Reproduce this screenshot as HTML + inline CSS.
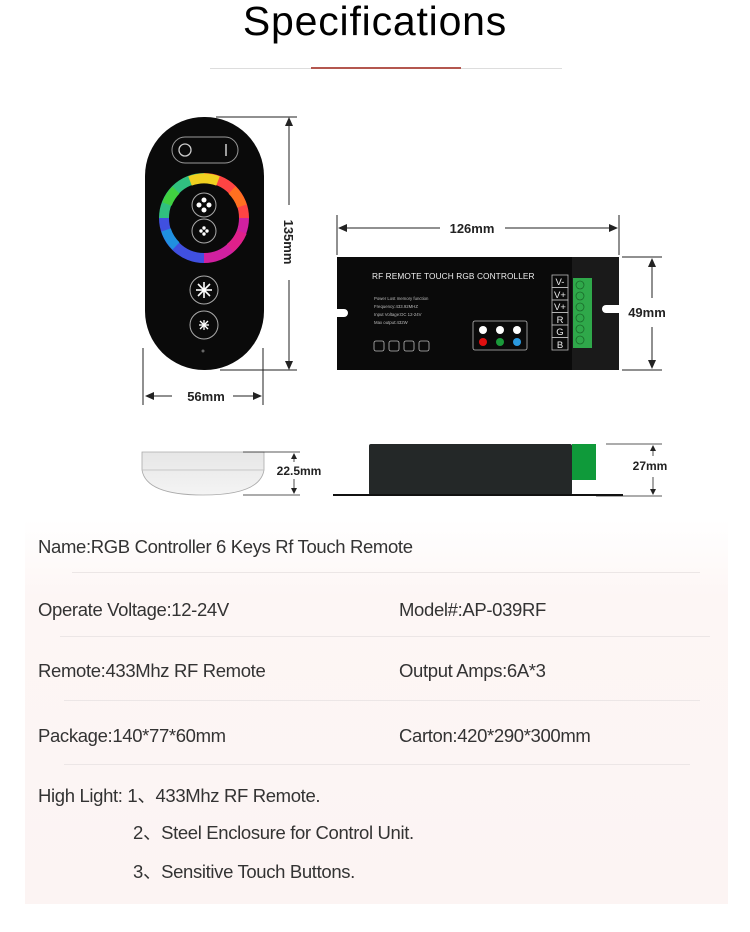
<!DOCTYPE html>
<html><head><meta charset="utf-8"><style>
html,body{margin:0;padding:0;background:#fff;}
body{width:750px;height:932px;position:relative;overflow:hidden;font-family:"Liberation Sans",sans-serif;}
.panel{position:absolute;left:25px;top:520px;width:703px;height:384px;background:linear-gradient(#fff,#fdf6f5 20%,#fcf4f3);}
.t{position:absolute;font-size:18.5px;color:#333;white-space:nowrap;letter-spacing:-0.35px;line-height:20px;}
.hl{position:absolute;height:1px;background:#ece6e6;}
</style></head><body>
<div class="panel"></div>
<div style="position:absolute;left:0;width:750px;top:-2px;text-align:center;font-size:41px;color:#000;letter-spacing:0.8px;">Specifications</div>
<div style="position:absolute;left:210px;top:68px;width:352px;height:1px;background:#ddd;"></div>
<div style="position:absolute;left:311px;top:67px;width:150px;height:2px;background:#b4574f;"></div>

<svg style="position:absolute;left:0;top:0" width="750" height="520" font-family="Liberation Sans, sans-serif">
<defs>
<linearGradient id="side" x1="0" y1="0" x2="0" y2="1"><stop offset="0" stop-color="#e6e6e6"/><stop offset="1" stop-color="#f4f4f4"/></linearGradient>
</defs>
<rect x="145" y="117" width="119" height="253" rx="59" fill="#0a0a0a"/>
<rect x="172" y="137" width="66" height="26" rx="13" fill="none" stroke="#999" stroke-width="1"/>
<circle cx="185" cy="150" r="6" fill="none" stroke="#ccc" stroke-width="1.3"/>
<line x1="226" y1="144" x2="226" y2="156" stroke="#ccc" stroke-width="1.5"/>
<g fill="none" stroke-width="10">
<path d="M204 178 A40 40 0 0 1 244 218" stroke="#f44"/>
<path d="M244 218 A40 40 0 0 1 204 258" stroke="#d020a0"/>
<path d="M204 258 A40 40 0 0 1 164 218" stroke="#4050e0"/>
<path d="M164 218 A40 40 0 0 1 204 178" stroke="#30c080"/>
<path d="M190 181 A40 40 0 0 1 218 181" stroke="#f0d020"/>
<path d="M167 204 A40 40 0 0 1 176 190" stroke="#40d040"/>
<path d="M232 190 A40 40 0 0 1 242 206" stroke="#ff7020"/>
<path d="M242 232 A40 40 0 0 1 230 248" stroke="#e0208a"/>
<path d="M176 246 A40 40 0 0 1 166 230" stroke="#2090e0"/>
</g>
<circle cx="204" cy="205" r="12" fill="none" stroke="#aaa"/>
<g fill="#fff"><circle cx="204" cy="200" r="2.5"/><circle cx="199" cy="205" r="2.5"/><circle cx="209" cy="205" r="2.5"/><circle cx="204" cy="210" r="2.5"/></g>
<circle cx="204" cy="231" r="12" fill="none" stroke="#aaa"/>
<g fill="#fff"><circle cx="204" cy="228" r="1.7"/><circle cx="201" cy="231" r="1.7"/><circle cx="207" cy="231" r="1.7"/><circle cx="204" cy="234" r="1.7"/></g>
<circle cx="204" cy="290" r="14" fill="none" stroke="#aaa"/>
<g stroke="#fff" stroke-width="1.6"><line x1="204" y1="282" x2="204" y2="298"/><line x1="196" y1="290" x2="212" y2="290"/><line x1="198" y1="284" x2="210" y2="296"/><line x1="210" y1="284" x2="198" y2="296"/></g>
<circle cx="204" cy="325" r="14" fill="none" stroke="#aaa"/>
<g stroke="#fff" stroke-width="1.3"><line x1="204" y1="320" x2="204" y2="330"/><line x1="199" y1="325" x2="209" y2="325"/><line x1="200" y1="321" x2="208" y2="329"/><line x1="208" y1="321" x2="200" y2="329"/></g>
<circle cx="203" cy="351" r="1.5" fill="#666"/>
<g stroke="#222" stroke-width="1">
<line x1="216" y1="117" x2="297" y2="117"/><line x1="220" y1="370" x2="297" y2="370"/>
<line x1="289" y1="120" x2="289" y2="205"/><line x1="289" y1="280" x2="289" y2="366"/>
<line x1="143" y1="348" x2="143" y2="405"/><line x1="263" y1="348" x2="263" y2="405"/>
<line x1="148" y1="396" x2="172" y2="396"/><line x1="233" y1="396" x2="259" y2="396"/>
</g>
<g fill="#222"><path d="M289 117 l-4 9 h8z"/><path d="M289 370 l-4 -9 h8z"/><path d="M145 396 l9 -4 v8z"/><path d="M262 396 l-9 -4 v8z"/></g>
<text x="289" y="242" font-size="13" font-weight="bold" fill="#222" text-anchor="middle" transform="rotate(90 289 242)" dy="5">135mm</text>
<text x="206" y="401" font-size="13" font-weight="bold" fill="#222" text-anchor="middle">56mm</text>
<path d="M337 257 H619 V305 H606 a4 4 0 0 0 0 8 H619 V370 H337 V317 H344 a4 4 0 0 0 0 -8 H337Z" fill="#0a0a0a"/>
<rect x="572" y="257" width="47" height="113" fill="#1a1a1a"/>
<path d="M606 305 a4 4 0 0 0 0 8 H619 V305Z" fill="#fff"/>
<rect x="573" y="278" width="19" height="70" fill="#2fa84a"/>
<g fill="none" stroke="#1a6a2a" stroke-width="0.8"><circle cx="580" cy="285" r="4"/><circle cx="580" cy="296" r="4"/><circle cx="580" cy="307" r="4"/><circle cx="580" cy="318" r="4"/><circle cx="580" cy="329" r="4"/><circle cx="580" cy="340" r="4"/></g>
<g fill="none" stroke="#bbb" stroke-width="0.8">
<rect x="552" y="275" width="16" height="12.5"/><rect x="552" y="287.5" width="16" height="12.5"/><rect x="552" y="300" width="16" height="12.5"/><rect x="552" y="312.5" width="16" height="12.5"/><rect x="552" y="325" width="16" height="12.5"/><rect x="552" y="337.5" width="16" height="12.5"/>
<rect x="473" y="321" width="54" height="29" rx="2"/>
<rect x="374" y="341" width="10" height="10" rx="2"/><rect x="389" y="341" width="10" height="10" rx="2"/><rect x="404" y="341" width="10" height="10" rx="2"/><rect x="419" y="341" width="10" height="10" rx="2"/>
</g>
<g fill="#eee" font-size="9.5" text-anchor="middle"><text x="560" y="285">V-</text><text x="560" y="298">V+</text><text x="560" y="310">V+</text><text x="560" y="323">R</text><text x="560" y="335">G</text><text x="560" y="348">B</text></g>
<text x="372" y="279" font-size="8.3" fill="#eee" letter-spacing="0.1">RF REMOTE TOUCH RGB CONTROLLER</text>
<g fill="#bbb" font-size="4.3"><text x="374" y="300">Power Lost memory function</text><text x="374" y="308">Frequency:433.92MHZ</text><text x="374" y="316">Input Voltage:DC 12-24V</text><text x="374" y="324">Max output:432W</text></g>
<g fill="#fff"><circle cx="483" cy="330" r="4"/><circle cx="500" cy="330" r="4"/><circle cx="517" cy="330" r="4"/></g>
<circle cx="483" cy="342" r="4" fill="#e01010"/><circle cx="500" cy="342" r="4" fill="#1a9a3a"/><circle cx="517" cy="342" r="4" fill="#2a9ae0"/>
<g stroke="#222" stroke-width="1">
<line x1="337" y1="215" x2="337" y2="255"/><line x1="619" y1="215" x2="619" y2="255"/>
<line x1="341" y1="228" x2="440" y2="228"/><line x1="505" y1="228" x2="615" y2="228"/>
<line x1="622" y1="257" x2="662" y2="257"/><line x1="622" y1="370" x2="662" y2="370"/>
<line x1="652" y1="260" x2="652" y2="298"/><line x1="652" y1="327" x2="652" y2="367"/>
</g>
<g fill="#222"><path d="M338 228 l9 -4 v8z"/><path d="M618 228 l-9 -4 v8z"/><path d="M652 258 l-4 9 h8z"/><path d="M652 369 l-4 -9 h8z"/></g>
<text x="472" y="233" font-size="13" font-weight="bold" fill="#222" text-anchor="middle">126mm</text>
<text x="647" y="317" font-size="13" font-weight="bold" fill="#222" text-anchor="middle">49mm</text>
<path d="M142 452 H264 V470 Q260 495 203 495 Q146 495 142 470Z" fill="url(#side)" stroke="#aaa" stroke-width="0.8"/>
<line x1="142" y1="470" x2="264" y2="470" stroke="#bbb" stroke-width="0.8"/>
<g stroke="#222" stroke-width="0.8">
<line x1="243" y1="452" x2="300" y2="452"/><line x1="243" y1="495" x2="300" y2="495"/>
<line x1="294" y1="456" x2="294" y2="462"/><line x1="294" y1="479" x2="294" y2="491"/>
<line x1="606" y1="444" x2="662" y2="444"/><line x1="596" y1="496" x2="662" y2="496"/>
<line x1="653" y1="448" x2="653" y2="456"/><line x1="653" y1="477" x2="653" y2="492"/>
</g>
<g fill="#222"><path d="M294 453 l-3 6 h6z"/><path d="M294 494 l-3 -6 h6z"/><path d="M653 445 l-3 6 h6z"/><path d="M653 495 l-3 -6 h6z"/></g>
<text x="299" y="475" font-size="12" font-weight="bold" fill="#222" text-anchor="middle">22.5mm</text>
<text x="650" y="470" font-size="12" font-weight="bold" fill="#222" text-anchor="middle">27mm</text>
<rect x="369" y="444" width="203" height="51" rx="2" fill="#242828"/>
<rect x="572" y="444" width="24" height="36" fill="#0f9a3a"/>
<rect x="333" y="494" width="290" height="2" fill="#111"/>
</svg>

<div class="t" style="left:38px;top:537px;">Name:RGB Controller 6 Keys Rf Touch Remote</div>
<div class="hl" style="left:72px;top:572px;width:628px;"></div>
<div class="t" style="left:38px;top:600px;">Operate Voltage:12-24V</div>
<div class="t" style="left:399px;top:600px;">Model#:AP-039RF</div>
<div class="hl" style="left:60px;top:636px;width:650px;"></div>
<div class="t" style="left:38px;top:661px;">Remote:433Mhz RF Remote</div>
<div class="t" style="left:399px;top:661px;">Output Amps:6A*3</div>
<div class="hl" style="left:64px;top:700px;width:636px;"></div>
<div class="t" style="left:38px;top:726px;">Package:140*77*60mm</div>
<div class="t" style="left:399px;top:726px;">Carton:420*290*300mm</div>
<div class="hl" style="left:64px;top:764px;width:626px;"></div>
<div class="t" style="left:38px;top:786px;font-family:'Liberation Sans','Noto Sans CJK SC',sans-serif;">High Light: 1、433Mhz RF Remote.</div>
<div class="t" style="left:133px;top:823px;font-family:'Liberation Sans','Noto Sans CJK SC',sans-serif;">2、Steel Enclosure for Control Unit.</div>
<div class="t" style="left:133px;top:862px;font-family:'Liberation Sans','Noto Sans CJK SC',sans-serif;">3、Sensitive Touch Buttons.</div>
</body></html>
